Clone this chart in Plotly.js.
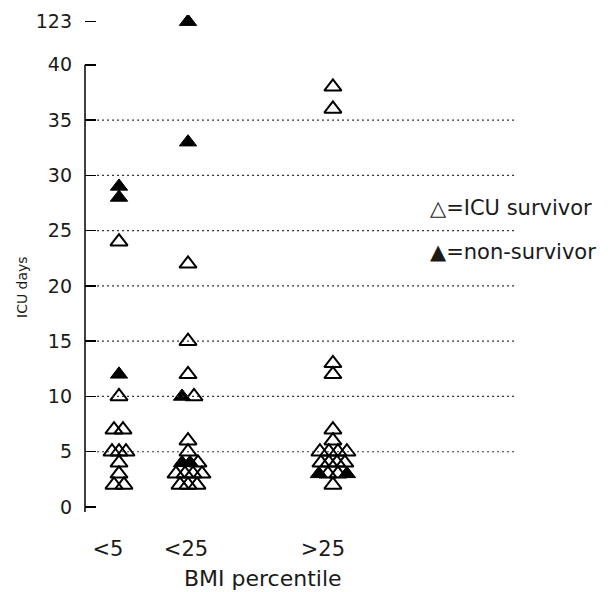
<!DOCTYPE html>
<html>
<head>
<meta charset="utf-8">
<script src="https://cdn.plot.ly/plotly-3.0.1.min.js"></script>
<style>html,body{margin:0;padding:0;background:#fff;}#chart{width:608px;height:592px;}</style>
</head>
<body>
<div id="chart"></div>
<script>
// ---- data ----
const categories = ['<5', '<25', '>25'];
// ICU days of survivors per BMI group
const survivorsLt5  = [24, 10, 7, 7, 5, 5, 5, 4, 3, 2, 2];
const survivorsLt25 = [22, 15, 12, 10, 6, 5, 4, 3, 3, 3, 3, 2, 2, 2];
const survivorsGt25 = [38, 36, 13, 12, 7, 6, 5, 5, 5, 5, 4, 4, 4, 4, 3, 3, 2];
// ICU days of non-survivors per BMI group
const nonSurvivorsLt5  = [29, 28, 12];
const nonSurvivorsLt25 = [123, 33, 10, 4, 4];
const nonSurvivorsGt25 = [3, 3];
// y tick values / labels
const yTickVals = [0, 5, 10, 15, 20, 25, 30, 35, 40, 123];
const gridVals = [5, 10, 15, 20, 25, 30, 35];

// ---- layout helpers (positions, not data) ----
const catPos = [0, 1, 3.1];           // horizontal placement of the groups
const pxPerUnit = 69;                 // x-axis pixels per unit
const labelShiftPx = [-11, -2, -10];  // tick labels sit slightly left of the marker columns
const jitLt5  = [0, 0, -5, 4, -7, 0, 7, 0, 0, -5, 5];
const jitLt25 = [0, 0, 0, 6, 0, 0, 10, -12, -3, 5, 14, -8, 0, 9];
const jitGt25 = [0, 0, 0, 0, 0, 0, -13, -4, 5, 14, -12, -4, 4, 12, -5, 5, 0];
const jitNLt5  = [0, 0, 0];
const jitNLt25 = [0, 0, -6, -6, 2];
const jitNGt25 = [-14, 14];

const axisBreak = 40, breakPos = 43.9;   // broken y axis: values above 40 drawn at breakPos
const by = v => (v > axisBreak ? breakPos : v);

function pts(groups) {
  const x = [], y = [], t = [];
  groups.forEach(([ci, vals, jit]) => {
    vals.forEach((v, i) => {
      x.push(catPos[ci] + jit[i] / pxPerUnit);
      y.push(by(v));
      t.push(categories[ci] + ': ' + v + ' days');
    });
  });
  return {x, y, t};
}

const surv = pts([[0, survivorsLt5, jitLt5], [1, survivorsLt25, jitLt25], [2, survivorsGt25, jitGt25]]);
const non = pts([[0, nonSurvivorsLt5, jitNLt5], [1, nonSurvivorsLt25, jitNLt25], [2, nonSurvivorsGt25, jitNGt25]]);

const traces = [
  {x: non.x, y: non.y, text: non.t, type: 'scatter', mode: 'markers', name: 'non-survivor',
   marker: {symbol: 'triangle-up', size: 15, color: '#000', line: {width: 1, color: '#000'}}, hoverinfo: 'text'},
  {x: surv.x, y: surv.y, text: surv.t, type: 'scatter', mode: 'markers', name: 'ICU survivor',
   marker: {symbol: 'triangle-up-open', size: 15, color: '#000', line: {width: 2, color: '#000'}}, hoverinfo: 'text'}
];

const F = 'DejaVu Sans, Arial, sans-serif';
const TXT = '#1a1a1a';
const shapes = gridVals.map(v => ({
  type: 'line', xref: 'paper', yref: 'y', x0: 0.028, x1: 1, y0: v, y1: v,
  line: {color: '#333', width: 1.2, dash: '2px,3px'}
}));
shapes.push({type: 'line', xref: 'paper', yref: 'y', x0: 0, x1: 0, y0: -0.45, y1: axisBreak,
  line: {color: '#000', width: 1.5}});

const layout = {
  width: 608, height: 592,
  margin: {l: 85, r: 93, t: 15, b: 80},
  paper_bgcolor: '#fff', plot_bgcolor: '#fff',
  showlegend: false,
  font: {family: F, color: TXT},
  xaxis: {
    range: [-34 / pxPerUnit, 396 / pxPerUnit],
    tickvals: catPos.map((p, i) => p + labelShiftPx[i] / pxPerUnit), ticktext: categories,
    showgrid: false, zeroline: false, showline: false, ticks: '',
    tickfont: {size: 21, family: F, color: TXT},
    ticklabelstandoff: 22
  },
  yaxis: {
    range: [-0.45, 44.5],
    tickvals: yTickVals.map(by), ticktext: yTickVals.map(String),
    showgrid: false, zeroline: false, showline: false,
    ticks: 'inside', ticklen: 11, tickwidth: 1.5, tickcolor: '#000',
    tickfont: {size: 19, family: F, color: TXT},
    ticklabelstandoff: 12
  },
  shapes: shapes,
  annotations: [
    {text: 'ICU days', xref: 'paper', yref: 'paper', x: (22 - 85) / 430, y: (512 - 287) / 497,
     xanchor: 'center', yanchor: 'middle', textangle: -90, showarrow: false,
     font: {size: 14, family: F, color: TXT}},
    {text: 'BMI percentile', xref: 'paper', yref: 'paper', x: (263 - 85) / 430, y: (512 - 578) / 497,
     xanchor: 'center', yanchor: 'middle', showarrow: false,
     font: {size: 22, family: F, color: TXT}},
    {text: '\u25B3=ICU survivor', xref: 'paper', yref: 'paper', x: (428 - 85) / 430, y: (512 - 208) / 497,
     xanchor: 'left', yanchor: 'middle', showarrow: false,
     font: {size: 21, family: F, color: TXT}},
    {text: '\u25B2=non-survivor', xref: 'paper', yref: 'paper', x: (428 - 85) / 430, y: (512 - 252) / 497,
     xanchor: 'left', yanchor: 'middle', showarrow: false,
     font: {size: 21, family: F, color: TXT}}
  ]
};

Plotly.newPlot('chart', traces, layout, {displayModeBar: false, staticPlot: true});
</script>
</body>
</html>
